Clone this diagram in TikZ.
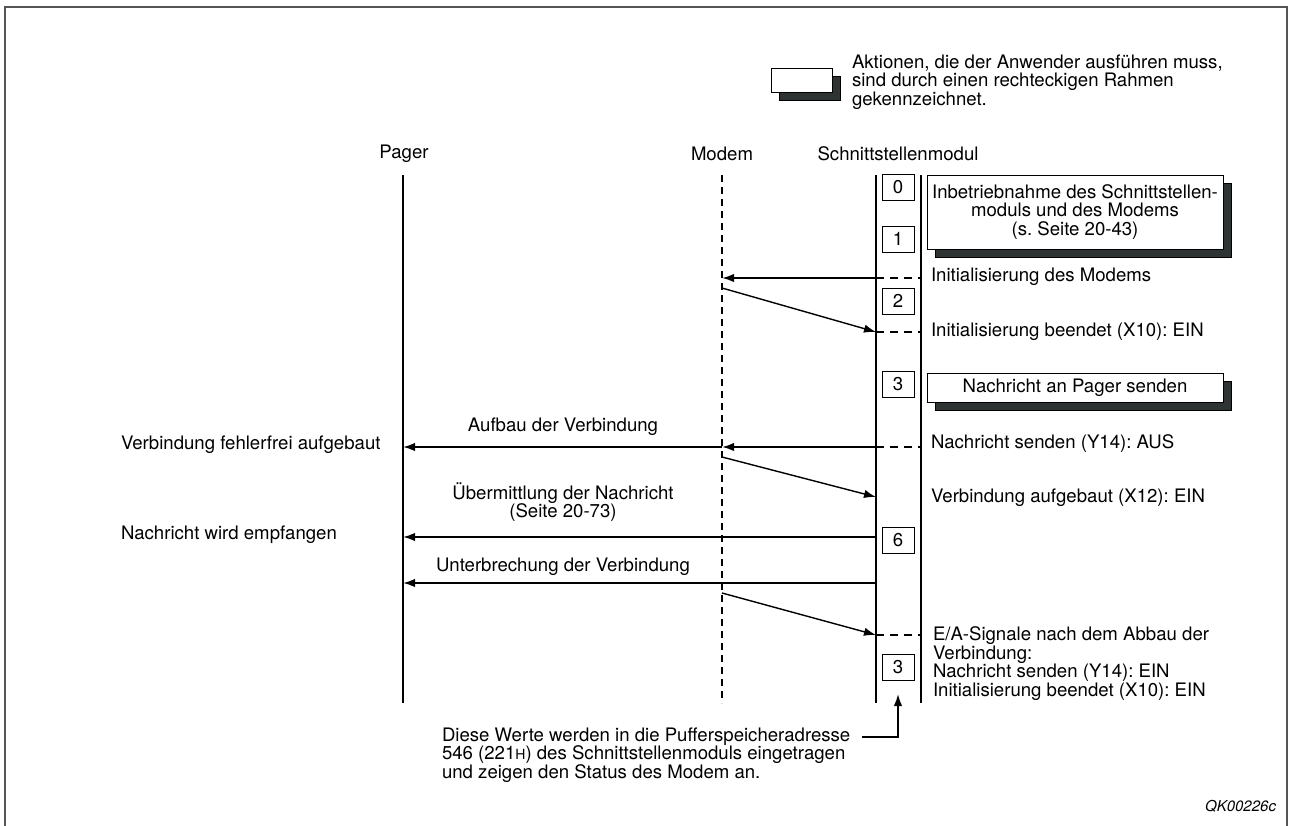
\documentclass[tikz,border=0pt]{standalone}
\usepackage{fontspec}
\setmainfont{TeX Gyre Heros}
\usetikzlibrary{shadows,arrows.meta}
\definecolor{nframe}{RGB}{85, 85, 85}
\definecolor{nshadow}{RGB}{46, 52, 52}
\frenchspacing

\begin{document}
\begin{tikzpicture}[x=0.5pt,y=-0.5pt,>={Latex[length=6pt,width=4.2pt]}]
    \tikzstyle{every node}=[inner sep=0,outer sep=0,font=\fontsize{9.3}{9.2}\selectfont]
    \tikzstyle{stepbox}=[draw,line width=0.5pt,fill=white,minimum width=16pt,minimum height=13pt]
    \tikzstyle{userbox}=[draw,line width=0.5pt,fill=white,align=center,
        copy shadow={shadow xshift=4pt,shadow yshift=-4pt,fill=nshadow,draw=black}]
    \tikzstyle{msg}=[->,line width=0.9pt]
    \tikzstyle{reply}=[->,line width=0.7pt]
    \tikzstyle{stub}=[dashed,line width=0.7pt,dash pattern=on 4pt off 3pt]
    \useasboundingbox (0,0) rectangle (1290,825);
    \draw [nframe,line width=1pt] (5,830) -- (5,7) -- (1287,7) -- (1287,830);

    % legend
    \node[userbox,minimum width=30.5pt,minimum height=12pt] (legend) at (801.5,80) {};
    \node[anchor=west,align=left] (legendtext) at (852,82)
        {Aktionen, die der Anwender ausführen muss,\\sind durch einen rechteckigen Rahmen\\gekennzeichnet.};

    % headers and lifelines
    \node (pager) at (404,154) {Pager};
    \node (modem) at (722,154) {Modem};
    \node (module) at (898,154) {Schnittstellenmodul};
    \coordinate (pagertop) at (403,175);
    \coordinate (pagerbot) at (403,703);
    \coordinate (modemtop) at (722,175);
    \coordinate (modembot) at (722,703);
    \coordinate (modtop) at (876,175);
    \coordinate (modbot) at (876,703);
    \coordinate (modrtop) at (921,175);
    \coordinate (modrbot) at (921,703);
    \draw (pagertop) -- (pagerbot) [line width=1pt];
    \draw (modemtop) -- (modembot) [line width=0.8pt,dash pattern=on 3.5pt off 2.5pt];
    \draw (modtop) -- (modbot) [line width=1pt];
    \draw (modrtop) -- (modrbot) [line width=1pt];

    % steps
    \node[stepbox] (s0) at (898,187) {0};
    \node[stepbox] (s1) at (898,239) {1};
    \node[stepbox] (s2) at (898,301) {2};
    \node[stepbox] (s3) at (898,384) {3};
    \node[stepbox] (s6) at (898,540) {6};
    \node[stepbox] (s3b) at (898,667) {3};

    % actions of the user
    \node[userbox,minimum width=148pt,minimum height=37pt] (setup) at (1075,212)
        {Inbetriebnahme des Schnittstellen-\\moduls und des Modems\\(s. Seite 20-43)};
    \node[userbox,minimum width=148pt,minimum height=14.5pt] (send) at (1075,387.5)
        {Nachricht an Pager senden};

    % message rows
    \coordinate (yinit) at (0,278);
    \coordinate (yinitend) at (0,332);
    \coordinate (ysend) at (0,447);
    \coordinate (yconn) at (0,497);
    \coordinate (ymsg) at (0,537);
    \coordinate (ydisc) at (0,583);
    \coordinate (yend) at (0,635);

    \draw[msg] (modtop |- yinit) -- (modemtop |- yinit);
    \draw[stub] (modtop |- yinit) -- (modrtop |- yinit);
    \node[anchor=west] (tinit) at (931,277) {Initialisierung des Modems};

    \draw[reply] ([yshift=-5pt]modemtop |- yinit) -- (modtop |- yinitend);
    \draw[stub] (modtop |- yinitend) -- (modrtop |- yinitend);
    \node[anchor=west] (tinitend) at (931,332) {Initialisierung beendet (X10): EIN};

    \draw[msg] (modtop |- ysend) -- (modemtop |- ysend);
    \draw[msg] (modemtop |- ysend) -- (pagertop |- ysend);
    \draw[stub] (modtop |- ysend) -- (modrtop |- ysend);
    \node (tbuild) at (563,427) {Aufbau der Verbindung};
    \node[anchor=west] (tsend) at (931,444) {Nachricht senden (Y14): AUS};
    \node[anchor=west] (tok) at (121,445) {Verbindung fehlerfrei aufgebaut};

    \draw[reply] ([yshift=-5pt]modemtop |- ysend) -- (modtop |- yconn);
    \node[anchor=west] (tconn) at (931,498) {Verbindung aufgebaut (X12): EIN};

    \draw[msg] (modtop |- ymsg) -- (pagertop |- ymsg);
    \node[align=center] (ttrans) at (563,502) {Übermittlung der Nachricht\\(Seite 20-73)};
    \node[anchor=west] (trecv) at (121,535) {Nachricht wird empfangen};

    \draw[msg] (modtop |- ydisc) -- (pagertop |- ydisc);
    \node (tdisc) at (563,567) {Unterbrechung der Verbindung};

    \draw[reply] ([yshift=-5pt]modemtop |- ydisc) -- (modtop |- yend);
    \draw[stub] (modtop |- yend) -- (modrtop |- yend);
    \node[anchor=north west,align=left] (tio) at (933,627)
        {E/A-Signale nach dem Abbau der\\Verbindung:\\Nachricht senden (Y14): EIN\\Initialisierung beendet (X10): EIN};

    % buffer memory note
    \node[anchor=west,align=left] (note) at (442,755)
        {Diese Werte werden in die Pufferspeicheradresse\\546 (221{\fontsize{7}{7}\selectfont H}) des Schnittstellenmoduls eingetragen\\und zeigen den Status des Modem an.};
    \coordinate (noteend) at (862,737);
    \draw (noteend) -| (s3b.south) [->,line width=0.8pt,shorten >=7pt];

    \node[anchor=east,font=\fontsize{7.5}{7.5}\selectfont\itshape] (code) at (1276,806) {QK00226c};
\end{tikzpicture}
\end{document}
